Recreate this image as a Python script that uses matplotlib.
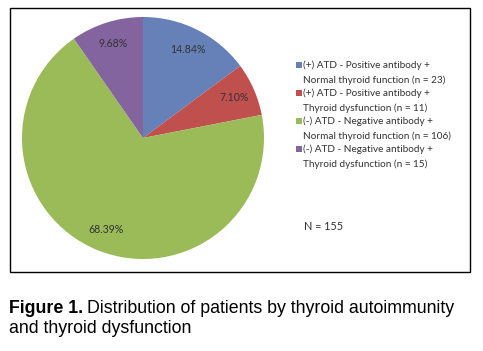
import matplotlib
matplotlib.use("Agg")
import matplotlib.pyplot as plt
from matplotlib.patches import Rectangle
import numpy as np

labels = [
    "(+) ATD - Positive antibody +\nNormal thyroid function (n = 23)",
    "(+) ATD - Positive antibody +\nThyroid dysfunction (n = 11)",
    "(-) ATD - Negative antibody +\nNormal thyroid function (n = 106)",
    "(-) ATD - Negative antibody +\nThyroid dysfunction (n = 15)",
]
values = [14.84, 7.10, 68.39, 9.68]
pct_labels = ["14.84%", "7.10%", "68.39%", "9.68%"]
colors = ["#6680B8", "#C0504D", "#9BBB59", "#83649F"]

W, H = 483, 351
fig = plt.figure(figsize=(W / 100, H / 100), dpi=100)

def fx(x):
    return x / W

def fy(y):
    return 1 - y / H

# outer box
fig.patches.append(Rectangle((fx(10), fy(272)), fx(460), (272 - 8) / H,
                             transform=fig.transFigure, fill=False,
                             edgecolor="black", linewidth=1.0))

cx, cy, r = 143, 138, 121
ax = fig.add_axes([fx(cx - r), fy(cy + r), 2 * r / W, 2 * r / H])
wedges, _ = ax.pie(values, colors=colors, startangle=90, counterclock=False,
                   radius=1.0, wedgeprops=dict(linewidth=0))
for w, t in zip(wedges, pct_labels):
    ang = np.deg2rad((w.theta1 + w.theta2) / 2)
    ax.text(0.82 * np.cos(ang), 0.82 * np.sin(ang), t, ha="center", va="center",
            fontsize=7.6, color="#333333", family="Lato")
ax.set_xlim(-1, 1)
ax.set_ylim(-1, 1)
ax.axis("off")

# legend
ys = [65, 93, 121, 149]
for y, lab, c in zip(ys, labels, colors):
    fig.patches.append(Rectangle((fx(296), fy(y + 2.5)), 5.5 / W, 5.5 / H,
                                 transform=fig.transFigure, facecolor=c,
                                 edgecolor="none"))
    l1, l2 = lab.split("\n")
    fig.text(fx(303), fy(y), l1, ha="left", va="center", fontsize=7.2,
             color="#333333", family="Lato")
    fig.text(fx(303), fy(y + 15), l2, ha="left", va="center", fontsize=7.2,
             color="#333333", family="Lato")

fig.text(fx(304), fy(227), "N = 155", ha="left", va="center", fontsize=7.8,
         color="#333333", family="Lato")

# caption
t1 = fig.text(fx(9), fy(313), "Figure 1.", ha="left", va="baseline",
              fontsize=12.8, fontweight="bold", family="Liberation Sans")
fig.canvas.draw()
bb = t1.get_window_extent()
x2 = bb.x1 / W + 4 / W
fig.text(x2, fy(313), "Distribution of patients by thyroid autoimmunity",
         ha="left", va="baseline", fontsize=12.8, family="Liberation Sans")
fig.text(fx(9), fy(333), "and thyroid dysfunction", ha="left", va="baseline",
         fontsize=12.8, family="Liberation Sans")

fig.savefig("out.png", dpi=100)
